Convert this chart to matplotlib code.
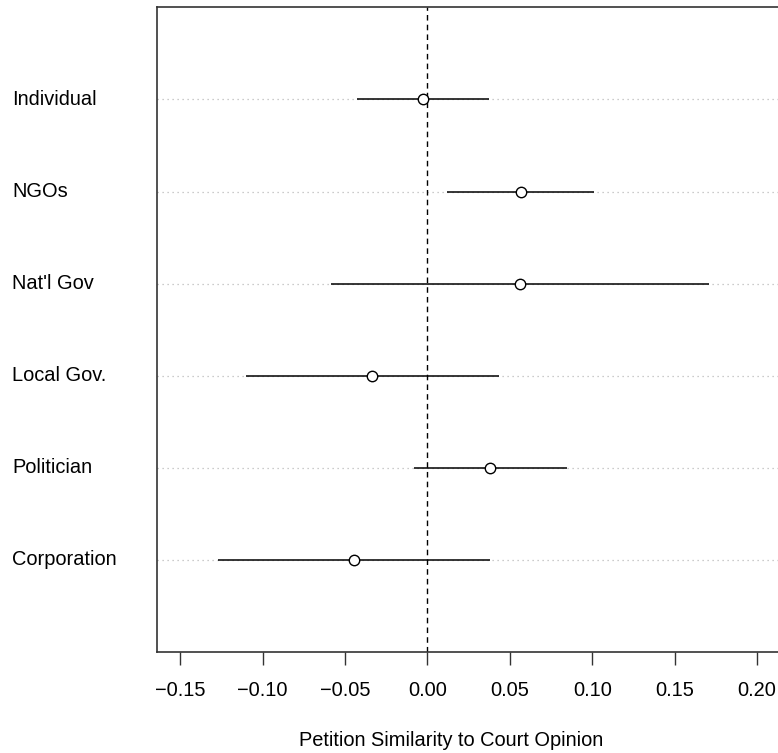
import matplotlib
matplotlib.use("Agg")
import matplotlib.pyplot as plt
import matplotlib.transforms as mtransforms
import numpy as np

plt.rcParams['font.family'] = ['Liberation Sans', 'DejaVu Sans']

groups = ["Individual", "NGOs", "Nat'l Gov", "Local Gov.", "Politician", "Corporation"]
est = [-0.0024, 0.0565, 0.0562, -0.0337, 0.0382, -0.0446]
lo = [-0.0428, 0.0118, -0.0584, -0.1100, -0.0081, -0.1270]
hi = [0.0376, 0.1012, 0.1710, 0.0434, 0.0846, 0.0379]
xticks = [-0.15, -0.10, -0.05, 0.00, 0.05, 0.10, 0.15, 0.20]

ypos = np.arange(len(groups), 0, -1)  # Individual at top

fig = plt.figure(figsize=(7.78, 7.53), dpi=100)
# right side of the box runs off the picture, like the original
ax = fig.add_axes([157/778, 1-652/753, 1-157/778 + 0.01, (652-7.3)/753])

# dotted guide lines
for y in ypos:
    ax.axhline(y, color='#bbbbbb', lw=0.9, ls=(0, (1, 3)), zorder=1)

ax.axvline(0, color='black', lw=1.0, ls=(0, (4, 3)), zorder=2)
ax.hlines(ypos, lo, hi, color='black', lw=1.1, zorder=3)
ax.plot(est, ypos, 'o', mfc='white', mec='black', ms=7.5, mew=1.0, zorder=4)

ax.set_xlim(-0.164, 0.2174)
ax.set_ylim(0, 7)
ax.set_xticks(xticks)
ax.set_xticklabels(['\u2212%.2f' % abs(v) if v < 0 else '%.2f' % v for v in xticks], fontsize=14.4)
ax.tick_params(axis='x', length=9, width=1.0, pad=12, color='#333333')
ax.set_yticks([])
for s in ax.spines.values():
    s.set_linewidth(1.2)
    s.set_color('#333333')
ax.spines['right'].set_visible(False)

# group names sit left-aligned near the figure edge
trans = mtransforms.blended_transform_factory(fig.transFigure, ax.transData)
for y, g in zip(ypos, groups):
    ax.text(12/778, y, g, transform=trans, ha='left', va='center', fontsize=14.4)

fig.text(451/778, 1-740/753, 'Petition Similarity to Court Opinion', ha='center', va='center', fontsize=14.4)

fig.savefig('out.png', dpi=100)
